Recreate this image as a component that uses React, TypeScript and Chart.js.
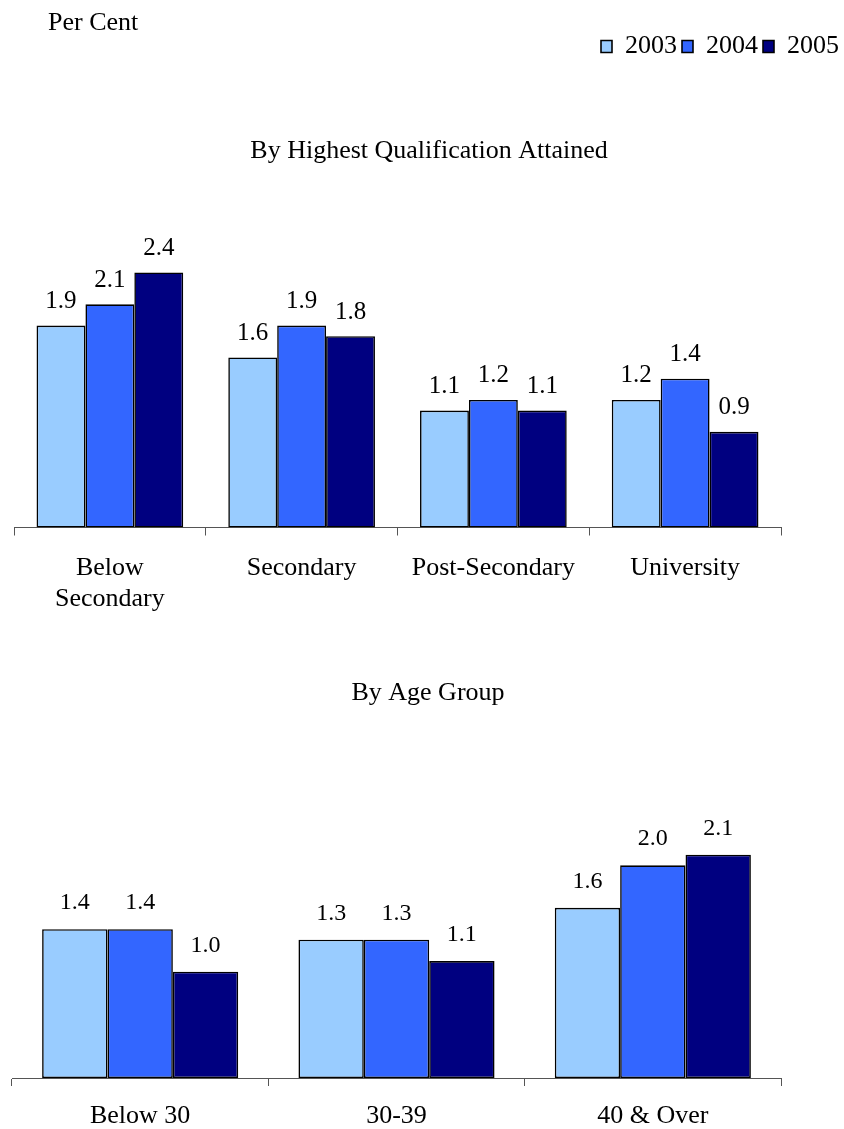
import React, { useEffect, useRef } from 'react';
import { Chart, registerables } from 'chart.js';

Chart.register(...registerables);

const FONT = "'Liberation Serif', 'Times New Roman', serif";

const years = ['2003', '2004', '2005'];
const barColors = ['#99CCFF', '#3366FF', '#000080'];

const qualTitle = 'By Highest Qualification Attained';
const qualCategories: (string | string[])[] = [['Below', 'Secondary'], 'Secondary', 'Post-Secondary', 'University'];
const qual2003 = [1.9, 1.6, 1.1, 1.2];
const qual2004 = [2.1, 1.9, 1.2, 1.4];
const qual2005 = [2.4, 1.8, 1.1, 0.9];

const ageTitle = 'By Age Group';
const ageCategories = ['Below 30', '30-39', '40 & Over'];
const age2003 = [1.4, 1.3, 1.6];
const age2004 = [1.4, 1.3, 2.0];
const age2005 = [1.0, 1.1, 2.1];

const unitLabel = 'Per Cent';
const yMin = 0;
const yMax = 3;

function valueLabels(fontSize: number, gap: number) {
  return {
    id: 'valueLabels',
    afterDatasetsDraw(chart: any) {
      const ctx = chart.ctx;
      ctx.save();
      ctx.font = `${fontSize}px ${FONT}`;
      ctx.fillStyle = '#000';
      ctx.textAlign = 'center';
      ctx.textBaseline = 'alphabetic';
      chart.data.datasets.forEach((ds: any, di: number) => {
        const meta = chart.getDatasetMeta(di);
        meta.data.forEach((bar: any, i: number) => {
          const v = ds.data[i];
          ctx.fillText(Number(v).toFixed(1), bar.x, bar.y - gap);
        });
      });
      ctx.restore();
    },
  };
}

const unitPlugin = {
  id: 'unitText',
  afterDraw(chart: any) {
    const ctx = chart.ctx;
    ctx.save();
    ctx.font = `26px ${FONT}`;
    ctx.fillStyle = '#000';
    ctx.textAlign = 'left';
    ctx.textBaseline = 'alphabetic';
    ctx.fillText(unitLabel, 48, 29.5);
    ctx.restore();
  },
};

function makeDatasets(series: number[][]) {
  return series.map((data, i) => ({
    label: years[i],
    data,
    backgroundColor: barColors[i],
    borderColor: '#000',
    borderWidth: 1.6,
    borderSkipped: false as const,
    barPercentage: 1,
    categoryPercentage: 0.765,
  }));
}

function makeConfig(opts: {
  labels: any[];
  series: number[][];
  title: string;
  titlePad: { top: number; bottom: number };
  showLegend: boolean;
  padTop: number;
  padLeft: number;
  xHeight: number;
  tickPad: number;
  labelFont: number;
  labelGap: number;
  extraPlugins: any[];
}): any {
  return {
    type: 'bar',
    data: { labels: opts.labels, datasets: makeDatasets(opts.series) },
    options: {
      responsive: false,
      animation: false,
      devicePixelRatio: 1,
      layout: { padding: { top: opts.padTop, left: opts.padLeft, right: 0, bottom: 0 } },
      plugins: {
        legend: {
          display: opts.showLegend,
          position: 'top',
          align: 'end',
          weight: 3000,
          labels: {
            boxWidth: 11,
            boxHeight: 12,
            padding: 5,
            color: '#000',
            font: { family: FONT, size: 26 },
          },
        },
        title: {
          display: true,
          text: opts.title,
          color: '#000',
          font: { family: FONT, size: 26, weight: 'normal' },
          padding: opts.titlePad,
        },
        tooltip: { enabled: false },
      },
      scales: {
        x: {
          offset: true,
          grid: {
            display: true,
            offset: true,
            drawOnChartArea: false,
            drawTicks: true,
            tickLength: 8,
            color: '#555',
            lineWidth: 1,
          },
          border: { display: true, color: '#555', width: 1 },
          ticks: {
            color: '#000',
            padding: opts.tickPad,
            maxRotation: 0,
            autoSkip: false,
            font: { family: FONT, size: 26 },
          },
          afterFit(scale: any) {
            scale.height = opts.xHeight;
          },
        },
        y: {
          position: 'right',
          min: yMin,
          max: yMax,
          grid: { display: false },
          border: { display: false },
          ticks: { display: false },
          afterFit(scale: any) {
            scale.width = 63;
          },
        },
      },
    },
    plugins: [valueLabels(opts.labelFont, opts.labelGap), ...opts.extraPlugins],
  };
}

export default function App() {
  const topRef = useRef<HTMLCanvasElement | null>(null);
  const bottomRef = useRef<HTMLCanvasElement | null>(null);

  useEffect(() => {
    document.body.style.margin = '0';
    const top = new Chart(
      topRef.current as HTMLCanvasElement,
      makeConfig({
        labels: qualCategories,
        series: [qual2003, qual2004, qual2005],
        title: qualTitle,
        titlePad: { top: 66, bottom: 42 },
        showLegend: true,
        padTop: 28.5,
        padLeft: 14,
        xHeight: 92.5,
        tickPad: 17,
        labelFont: 25,
        labelGap: 17.5,
        extraPlugins: [unitPlugin],
      })
    );
    const bottom = new Chart(
      bottomRef.current as HTMLCanvasElement,
      makeConfig({
        labels: ageCategories,
        series: [age2003, age2004, age2005],
        title: ageTitle,
        titlePad: { top: 57.4, bottom: 50.4 },
        showLegend: false,
        padTop: 0,
        padLeft: 12,
        xHeight: 51,
        tickPad: 15,
        labelFont: 24,
        labelGap: 20,
        extraPlugins: [],
      })
    );
    return () => {
      top.destroy();
      bottom.destroy();
    };
  }, []);

  return (
    <div style={{ position: 'relative', width: 844, height: 1129, background: '#fff' }}>
      <canvas ref={topRef} width={844} height={620} style={{ display: 'block', width: 844, height: 620 }} />
      <canvas ref={bottomRef} width={844} height={509} style={{ display: 'block', width: 844, height: 509 }} />
    </div>
  );
}
